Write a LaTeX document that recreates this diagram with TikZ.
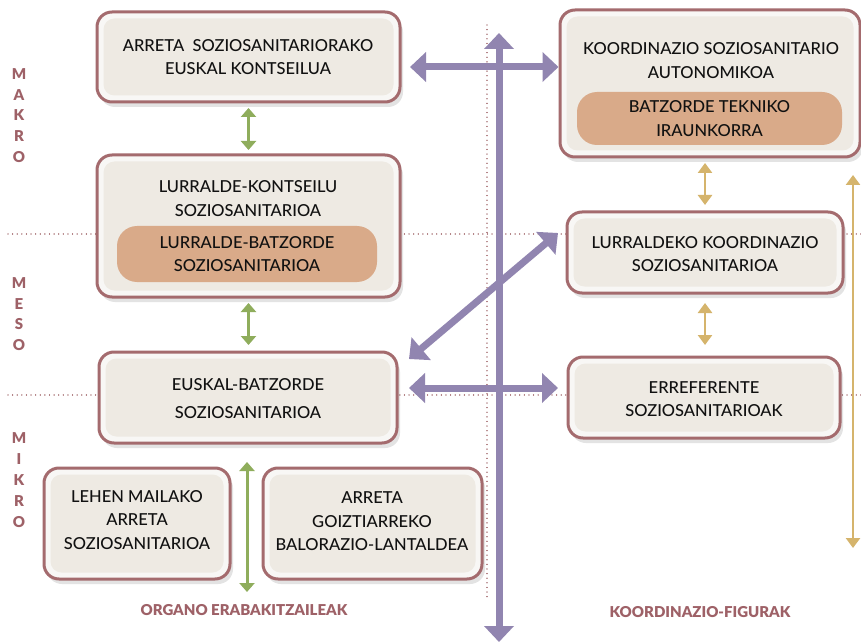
\documentclass[tikz,border=0pt]{standalone}
\usepackage{fontspec}
\IfFontExistsTF{Lato Medium}{\setmainfont{Lato Medium}}{\setmainfont{Lato}}
\IfFontExistsTF{Lato Black}{\newfontfamily\lblfont{Lato Black}}{\newfontfamily\lblfont{Lato}[FakeBold=2.5]}
\usetikzlibrary{arrows.meta,shadows,calc}
\definecolor{mauve}{HTML}{A46B6E}
\definecolor{lblcol}{HTML}{9E6167}
\definecolor{purp}{HTML}{9185B0}
\definecolor{grn}{HTML}{8FAD5C}
\definecolor{gold}{HTML}{D5B46C}
\definecolor{pillcol}{HTML}{D9AA89}
\definecolor{innercol}{HTML}{EEEAE3}
\definecolor{ringcol}{HTML}{F8F7F5}
\definecolor{txtcol}{HTML}{111111}
\tikzset{
  frame/.style={draw=mauve, line width=3pt, rounded corners=15pt, fill=ringcol,
    drop shadow={opacity=0.22, shadow xshift=3pt, shadow yshift=-5pt}},
  innerbox/.style={fill=innercol, rounded corners=11pt},
  pill/.style={fill=pillcol, rounded corners=20pt, inner sep=0pt},
  txt/.style={font=\fontsize{16.5}{23.5}\selectfont, align=center, text=txtcol, inner sep=0pt},
  side/.style={font=\lblfont\fontsize{15}{20.8}\selectfont, align=center, text=lblcol, inner sep=0pt},
  foot/.style={font=\lblfont\fontsize{15}{18}\selectfont, text=lblcol, inner sep=0pt},
  dots/.style={draw=mauve, line width=1.3pt, dash pattern=on 0.01pt off 4.6pt, line cap=round},
  parrow/.style={draw=purp, line width=7pt, {Triangle[length=16pt,width=29pt]}-{Triangle[length=16pt,width=29pt]}},
  garrow/.style={draw=grn, line width=3pt, {Triangle[length=9pt,width=15pt]}-{Triangle[length=9pt,width=15pt]}},
  yarrow/.style={draw=gold, line width=2.5pt, {Triangle[length=10pt,width=14pt]}-{Triangle[length=10pt,width=14pt]}}
}
\begin{document}
\begin{tikzpicture}[x=1pt,y=-1pt]
\useasboundingbox[fill=white] (0,0) rectangle (861,644);
% dotted guides
\coordinate (d1) at (8,234); \coordinate (d2) at (861,234);
\coordinate (d3) at (8,395); \coordinate (d4) at (861,395);
\coordinate (d5) at (487,25); \coordinate (d6) at (487,600);
\draw[dots] (d1) -- (d2);
\draw[dots] (d3) -- (d4);
\draw[dots] (d5) -- (d6);
% frames
\node[frame, minimum width=303pt, minimum height=90pt] (b1) at (248.5,57) {};
\node[frame, minimum width=303pt, minimum height=142pt] (b2) at (248.5,226) {};
\node[frame, minimum width=298pt, minimum height=91pt] (b3) at (248,397.5) {};
\node[frame, minimum width=186pt, minimum height=111pt] (b4) at (137,523.5) {};
\node[frame, minimum width=219pt, minimum height=111pt] (b5) at (372.5,523.5) {};
\node[frame, minimum width=300pt, minimum height=147pt] (b6) at (710,83.5) {};
\node[frame, minimum width=276pt, minimum height=81pt] (b7) at (705,252.5) {};
\node[frame, minimum width=272pt, minimum height=81pt] (b8) at (704,397.5) {};
\foreach \b in {b1,b2,b3,b4,b5,b6,b7,b8}
  \fill[innerbox] ([shift={(8pt,-8pt)}]\b.north west) rectangle ([shift={(-8pt,8pt)}]\b.south east);
% pills
\node[pill, minimum width=260pt, minimum height=56pt] (p2) at (247,254) {};
\node[pill, minimum width=265pt, minimum height=53pt] (p6) at (709.5,118.5) {};
% texts
\node[txt] (t1) at (248,57) {ARRETA\ \ SOZIOSANITARIORAKO\\EUSKAL KONTSEILUA};
\node[txt] (t2) at (248,198.5) {LURRALDE-KONTSEILU\\SOZIOSANITARIOA};
\node[txt] (tp2) at (p2) {LURRALDE-BATZORDE\\SOZIOSANITARIOA};
\node[txt, font=\fontsize{16.5}{28}\selectfont] (t3) at (248,399) {EUSKAL-BATZORDE\\SOZIOSANITARIOA};
\node[txt] (t4) at (137,520) {LEHEN MAILAKO\\ARRETA\\SOZIOSANITARIOA};
\node[txt] (t5) at (372,521.5) {ARRETA\\GOIZTIARREKO\\BALORAZIO-LANTALDEA};
\node[txt] (t6) at (711,60.5) {KOORDINAZIO SOZIOSANITARIO\\AUTONOMIKOA};
\node[txt] (tp6) at (p6) {BATZORDE TEKNIKO\\IRAUNKORRA};
\node[txt] (t7) at (705,254) {LURRALDEKO KOORDINAZIO\\SOZIOSANITARIOA};
\node[txt] (t8) at (704,399) {ERREFERENTE\\SOZIOSANITARIOAK};
% side labels
\node[side] (mak) at (19,115.5) {M\\A\\K\\R\\O};
\node[side] (mes) at (19,314) {M\\E\\S\\O};
\node[side] (mik) at (19,480) {M\\I\\K\\R\\O};
\node[foot] (f1) at (244,610) {ORGANO ERABAKITZAILEAK};
\node[foot] (f2) at (700,612) {KOORDINAZIO-FIGURAK};
% purple arrows
\coordinate (vt) at (499,33); \coordinate (vb) at (499,642);
\draw[parrow] (vt) -- (vb);
\draw[parrow] ([xshift=8.5pt,yshift=-10pt]b1.east) -- ([xshift=0pt,yshift=16.5pt]b6.west);
\draw[parrow] ([xshift=10.5pt,yshift=-8.5pt]b3.north east) -- ([xshift=-7.5pt,yshift=19.5pt]b7.west);
\draw[parrow] ([xshift=10.5pt,yshift=9.5pt]b3.east) -- ([xshift=-8.5pt,yshift=9.5pt]b8.west);
% green arrows
\draw[garrow] ([yshift=-4.5pt]b1.south) -- ([yshift=3.5pt]b1.south |- b2.north);
\draw[garrow] ([yshift=-4.5pt]b2.south) -- ([yshift=5.5pt]b2.south |- b3.north);
\coordinate (g1) at (247,462); \coordinate (g2) at (247,592);
\draw[garrow] (g1) -- (g2);
% gold arrows
\draw[yarrow] ([yshift=-4.5pt]b7.north |- b6.south) -- ([yshift=5.5pt]b7.north);
\draw[yarrow] ([yshift=-8.5pt]b7.south) -- ([yshift=10.5pt]b7.south |- b8.north);
\coordinate (y1) at (853,175); \coordinate (y2) at (853,548);
\draw[yarrow] (y1) -- (y2);
\end{tikzpicture}
\end{document}
